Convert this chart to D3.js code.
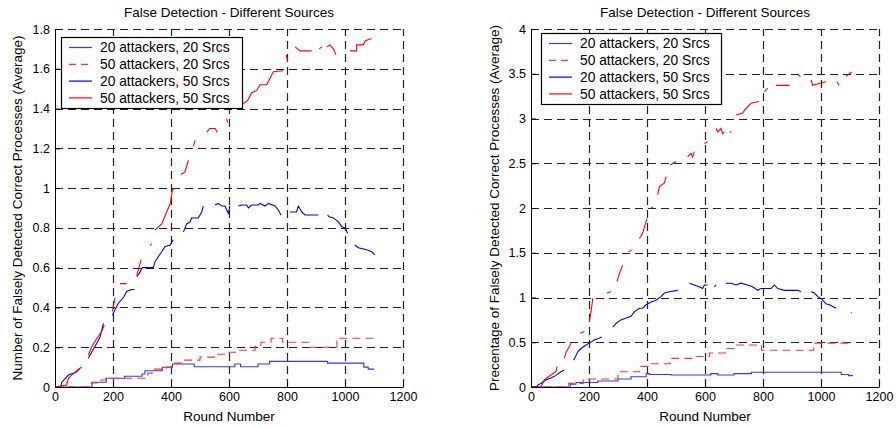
<!DOCTYPE html>
<html><head><meta charset="utf-8">
<script src="https://cdn.jsdelivr.net/npm/d3@7"></script>
<style>
html,body{margin:0;padding:0;background:#fff;}
svg{display:block;font-family:"Liberation Sans",Arial,sans-serif;}
</style></head>
<body><svg id="chart" width="896" height="428"></svg>
<script>
// ---------- DATA ----------
const xTicks = [0, 200, 400, 600, 800, 1000, 1200];
const leftYTicks = [0, 0.2, 0.4, 0.6, 0.8, 1, 1.2, 1.4, 1.6, 1.8];
const rightYTicks = [0, 0.5, 1, 1.5, 2, 2.5, 3, 3.5, 4];
const chartTitle = "False Detection - Different Sources";
const xLabel = "Round Number";
const leftYLabel = "Number of Falsely Detected Correct Processes (Average)";
const rightYLabel = "Precentage of Falsely Detected Correct Processes (Average)";
const seriesNames = ["20 attackers, 20 Srcs", "50 attackers, 20 Srcs", "20 attackers, 50 Srcs", "50 attackers, 50 Srcs"];

// [round, value]; null = gap in the plotted line
const left2020 = [[0,0],[128,0.024],[177,0.044],[240,0.054],[300,0.065],[310,0.082],[370,0.099],[405,0.116],[480,0.102],[620,0.116],[640,0.102],[700,0.116],[740,0.129],[940,0.12],[1065,0.1],[1080,0.09],[1100,0.09]];
const left5020 = [[0,0],[125,0.02],[145,0.035],[175,0.044],[320,0.07],[335,0.09],[385,0.1],[410,0.12],[440,0.135],[500,0.15],[550,0.165],[600,0.175],[630,0.185],[690,0.205],[710,0.225],[745,0.245],[785,0.225],[875,0.2],[972,0.245],[1100,0.245]];
const left2050 = [[0,0],[20,0],[23,0.023],[46,0.06],[63,0.069],[75,0.077],[86,0.094],null,
  [115,0.144],[121,0.16],[132,0.19],[144,0.22],[155,0.25],[167,0.32],null,
  [198,0.36],[207,0.39],[218,0.42],[236,0.45],[247,0.48],[264,0.49],[274,0.49],null,
  [282,0.555],[290,0.57],[301,0.6],[339,0.6],[345,0.63],[356,0.655],[368,0.68],[379,0.705],[397,0.714],[408,0.74],null,
  [443,0.78],[454,0.82],[466,0.83],[471,0.85],[494,0.85],[506,0.88],[511,0.91],null,
  [552,0.915],[563,0.923],[575,0.91],[586,0.91],[592,0.89],[598,0.873],[603,0.91],null,
  [632,0.91],[644,0.915],[661,0.915],[667,0.9],[678,0.915],[701,0.915],[707,0.923],[724,0.91],[736,0.923],[759,0.91],[770,0.89],[779,0.865],null,
  [810,0.88],[833,0.88],[839,0.91],[851,0.88],[862,0.865],[908,0.865],null,
  [940,0.865],[945,0.856],[960,0.85],[977,0.83],[989,0.806],[1000,0.8],[1009,0.773],null,
  [1034,0.714],[1046,0.7],[1075,0.69],[1092,0.68],[1103,0.664]];
const left5050 = [[0,0],[40,0.01],[46,0.044],[57,0.06],[86,0.094],[92,0.1],null,
  [115,0.16],[126,0.2],[138,0.23],[161,0.28],[170,0.31],null,
  [198,0.38],[207,0.45],null,
  [224,0.52],[247,0.52],null,
  [282,0.56],[297,0.64],null,
  [328,0.71],[333,0.72],null,
  [345,0.79],[368,0.82],[385,0.88],[397,0.92],[405,0.99],[414,1.0],null,
  [434,1.07],[448,1.08],[460,1.14],null,
  [477,1.21],[483,1.24],null,
  [523,1.28],[534,1.3],[552,1.3],[560,1.28],null,
  [592,1.35],[595,1.33],null,
  [644,1.42],[664,1.44],[678,1.48],[695,1.49],[707,1.52],[730,1.52],[753,1.585],[787,1.59],null,
  [797,1.67],[802,1.64],null,
  [828,1.71],[845,1.69],[885,1.69],null,
  [911,1.7],[920,1.71],null,
  [937,1.71],[948,1.72],[960,1.7],[969,1.67],null,
  [1017,1.69],[1040,1.69],[1040,1.72],[1063,1.72],[1069,1.74],[1086,1.75],[1092,1.75]];

const right2020 = [[0,0],[135,0.03],[155,0.05],[230,0.067],[300,0.09],[345,0.115],[397,0.15],[408,0.14],[483,0.134],[620,0.15],[644,0.134],[700,0.15],[760,0.164],[1070,0.14],[1095,0.127],[1110,0.127]];
const right5020 = [[0,0],[130,0.04],[180,0.09],[300,0.17],[375,0.23],[405,0.26],[480,0.32],[555,0.34],[615,0.38],[670,0.43],[705,0.47],[795,0.41],[975,0.49],[1100,0.49]];
const right2050 = [[0,0],[20,0],[23,0.022],[34,0.04],[52,0.08],[69,0.1],[86,0.13],[103,0.17],[115,0.19],null,
  [147,0.3],[161,0.39],[172,0.43],[190,0.47],[201,0.49],[218,0.525],[230,0.54],[244,0.56],null,
  [282,0.67],[293,0.71],[310,0.75],[328,0.77],[345,0.79],[356,0.84],[374,0.88],[385,0.88],[397,0.92],[414,0.95],[431,0.97],[448,1.01],[460,1.05],[477,1.065],[506,1.08],null,
  [546,1.16],[563,1.14],[580,1.12],[592,1.1],[598,1.14],[609,1.14],null,
  [632,1.12],[638,1.14],null,
  [672,1.16],[690,1.16],[707,1.14],[724,1.16],[747,1.14],[764,1.12],[782,1.08],[793,1.1],[828,1.1],[839,1.14],[851,1.1],[874,1.08],[920,1.08],[931,1.065],null,
  [966,1.065],[977,1.05],[989,1.01],[1000,0.99],[1006,0.97],[1017,0.93],[1029,0.92],[1040,0.9],[1052,0.88],null,
  [1103,0.83],[1106,0.83]];
const right5050 = [[0,0],[35,0],[40,0.04],[46,0.08],[60,0.115],[86,0.17],[90,0.23],null,
  [115,0.32],[121,0.39],[132,0.45],[138,0.49],null,
  [170,0.6],[184,0.62],null,
  [201,0.73],[207,0.84],[213,0.99],null,
  [262,1.05],[276,1.065],null,
  [297,1.18],[305,1.27],[316,1.36],null,
  [336,1.51],[347,1.53],null,
  [374,1.66],[385,1.72],[397,1.85],[400,1.88],null,
  [414,2.0],[420,2.01],null,
  [437,2.15],[443,2.24],[460,2.28],[466,2.35],null,
  [480,2.48],[500,2.52],null,
  [540,2.57],[552,2.61],[557,2.57],[563,2.63],null,
  [598,2.72],[609,2.74],null,
  [638,2.89],[644,2.85],[655,2.89],[661,2.83],[667,2.85],null,
  [684,2.85],[692,2.85],null,
  [707,3.04],[730,3.06],[736,3.09],[753,3.15],[759,3.17],[787,3.19],null,
  [805,3.3],[816,3.34],null,
  [845,3.37],[891,3.37],null,
  [920,3.49],[929,3.47],null,
  [966,3.43],[971,3.37],[1017,3.41],null,
  [1055,3.41],[1063,3.37],null,
  [1086,3.47],[1098,3.5],[1106,3.52]];

// ---------- STYLE / LAYOUT ----------
const styles = [
  {color:"#3535ff", dash:null,  step:true},
  {color:"#ff3030", dash:"8,5", step:true},
  {color:"#0000e0", dash:null,  step:false},
  {color:"#ff0000", dash:null,  step:false}
];
const panels = [
  {x0:55, x1:403, y0:29, y1:387, yMax:1.8, yTicks:leftYTicks, yLabel:leftYLabel, yLabelX:22,
   series:[left2020, left5020, left2050, left5050], legend:{x:61, y:37, w:181, h:71}},
  {x0:531, x1:879, y0:29, y1:387, yMax:4, yTicks:rightYTicks, yLabel:rightYLabel, yLabelX:499,
   series:[right2020, right5020, right2050, right5050], legend:{x:541, y:33, w:180, h:71}}
];

const svg = d3.select("#chart");
const fmt = v => String(+v.toFixed(2));

panels.forEach(p => {
  const x = d3.scaleLinear().domain([0, 1200]).range([p.x0, p.x1]);
  const y = d3.scaleLinear().domain([0, p.yMax]).range([p.y1, p.y0]);
  const g = svg.append("g");

  // grid
  const grid = g.append("g").attr("stroke", "#222").attr("stroke-width", 1.2).attr("stroke-dasharray", "8,5");
  xTicks.filter(t => t > 0).forEach(t => {
    grid.append("line").attr("x1", Math.round(x(t)) + 0.5).attr("x2", Math.round(x(t)) + 0.5).attr("y1", p.y1).attr("y2", p.y0);
  });
  p.yTicks.filter(t => t > 0).forEach(t => {
    grid.append("line").attr("x1", p.x0).attr("x2", p.x1).attr("y1", Math.round(y(t)) + 0.5).attr("y2", Math.round(y(t)) + 0.5);
  });

  // series
  p.series.forEach((data, i) => {
    const st = styles[i];
    const line = d3.line()
      .defined(d => d !== null)
      .x(d => x(d[0])).y(d => y(d[1]))
      .curve(st.step ? d3.curveStepAfter : d3.curveLinear);
    g.append("path").datum(data)
      .attr("fill", "none").attr("stroke", st.color).attr("stroke-width", 1.1)
      .attr("stroke-dasharray", st.dash)
      .attr("d", line);
  });

  // axes
  const ax = g.append("g").attr("transform", `translate(0,${p.y1})`)
    .call(d3.axisBottom(x).tickValues(xTicks).tickFormat(d => d).tickSizeInner(-5).tickSizeOuter(0).tickPadding(5));
  const ay = g.append("g").attr("transform", `translate(${p.x0},0)`)
    .call(d3.axisLeft(y).tickValues(p.yTicks).tickFormat(fmt).tickSizeInner(-5).tickSizeOuter(0).tickPadding(5));
  [ax, ay].forEach(a => {
    a.selectAll("text").attr("font-size", 12.5).attr("font-family", "Liberation Sans, Arial, sans-serif").attr("fill", "#000");
    a.select(".domain").attr("stroke", "#000");
    a.selectAll(".tick line").attr("stroke", "#000");
  });

  // title & labels
  const cx = (p.x0 + p.x1) / 2;
  g.append("text").attr("x", cx).attr("y", 17).attr("text-anchor", "middle")
    .attr("font-size", 13.5).text(chartTitle);
  g.append("text").attr("x", cx).attr("y", 421).attr("text-anchor", "middle")
    .attr("font-size", 13.5).text(xLabel);
  g.append("text").attr("transform", `translate(${p.yLabelX},${(p.y0 + p.y1) / 2}) rotate(-90)`)
    .attr("text-anchor", "middle").attr("font-size", 13.5).text(p.yLabel);

  // legend
  const L = p.legend;
  const lg = g.append("g").attr("transform", `translate(${L.x},${L.y})`);
  lg.append("rect").attr("x", 0.5).attr("y", 0.5).attr("width", L.w).attr("height", L.h).attr("fill", "#fff").attr("stroke", "#000").attr("stroke-width", 1.2);
  seriesNames.forEach((name, i) => {
    const ry = 10.5 + i * 16.8;
    lg.append("line").attr("x1", 8).attr("x2", 31).attr("y1", ry).attr("y2", ry)
      .attr("stroke", styles[i].color).attr("stroke-width", 1.2).attr("stroke-dasharray", styles[i].dash ? "7,5" : null);
    lg.append("text").attr("x", 39).attr("y", ry).attr("dy", "0.35em").attr("font-size", 13.8).text(name);
  });
});
</script></body></html>
